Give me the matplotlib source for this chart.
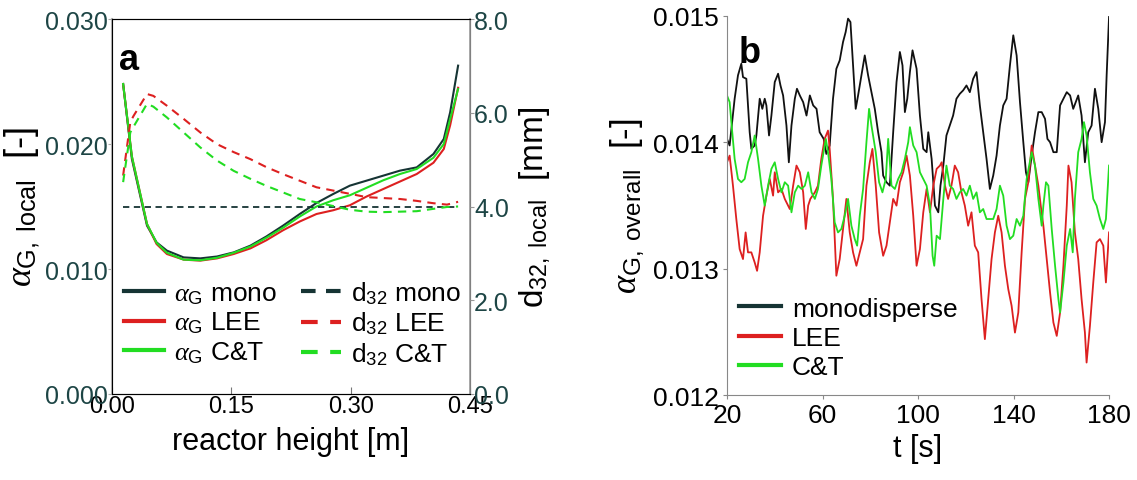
import numpy as np
import matplotlib
matplotlib.use("Agg")
from matplotlib import pyplot as plt

plt.rcParams['font.family'] = ['Liberation Sans', 'DejaVu Sans']
plt.rcParams['mathtext.fontset'] = 'custom'
plt.rcParams['mathtext.rm'] = 'Liberation Sans'
plt.rcParams['mathtext.sf'] = 'Liberation Sans'
plt.rcParams['mathtext.it'] = 'Liberation Serif:italic'

# ---- panel a: local gas holdup and bubble size along reactor height ----
height = [0.014, 0.025, 0.044, 0.056, 0.069, 0.090, 0.111, 0.132, 0.153, 0.174, 0.194, 0.215,
          0.236, 0.257, 0.278, 0.299, 0.320, 0.341, 0.362, 0.383, 0.404, 0.417, 0.425, 0.435]
alpha_mono = [0.0248, 0.0188, 0.01347, 0.01213, 0.01147, 0.01093, 0.01085, 0.0110, 0.01133, 0.01187,
              0.0126, 0.01347, 0.0144, 0.01528, 0.0160, 0.01667, 0.01707, 0.01747, 0.01787, 0.01813,
              0.0192, 0.0204, 0.02253, 0.02627]
alpha_lee = [0.0248, 0.0190, 0.0136, 0.0120, 0.0112, 0.01075, 0.01067, 0.01085, 0.0112, 0.01165,
             0.0123, 0.0131, 0.0138, 0.0144, 0.0147, 0.0151, 0.0158, 0.0164, 0.0170, 0.0176,
             0.0185, 0.0196, 0.0215, 0.0245]
alpha_ct = [0.0248, 0.0190, 0.0136, 0.0121, 0.0113, 0.01075, 0.0107, 0.0109, 0.0113, 0.0118,
            0.0125, 0.0133, 0.0142, 0.0150, 0.0155, 0.0159, 0.0165, 0.0171, 0.0176, 0.0180,
            0.0189, 0.0200, 0.0220, 0.0244]

height_d = [0.014, 0.023, 0.027, 0.044, 0.052, 0.069, 0.090, 0.111, 0.132, 0.153, 0.174, 0.194,
            0.215, 0.236, 0.257, 0.278, 0.299, 0.320, 0.341, 0.362, 0.383, 0.404, 0.421, 0.435]
d32_lee = [4.66, 5.80, 5.93, 6.40, 6.36, 6.15, 5.87, 5.58, 5.33, 5.16, 5.01, 4.84,
           4.69, 4.55, 4.41, 4.34, 4.27, 4.20, 4.18, 4.16, 4.12, 4.07, 4.04, 4.10]
d32_ct = [4.52, 5.58, 5.70, 6.19, 6.13, 5.90, 5.58, 5.26, 4.98, 4.76, 4.59, 4.44,
          4.30, 4.16, 4.09, 4.01, 3.93, 3.89, 3.88, 3.89, 3.90, 3.95, 3.99, 4.00]
height_mono = [0.014, 0.435]
d32_mono = [4.0, 4.0]

# ---- panel b: overall gas holdup over time ----
t_mono = [20.0, 21.1, 23.2, 24.6, 26.0, 26.7, 28.1, 29.5, 30.2, 31.6, 32.3, 33.7, 34.8, 35.8, 36.5,
          37.6, 38.6, 40.0, 41.4, 42.4, 43.5, 44.9, 45.9, 47.0, 48.4, 49.3, 50.5, 51.9, 53.3, 54.7,
          56.1, 57.5, 58.8, 60.5, 61.6, 63.0, 64.4, 65.8, 67.2, 68.6, 69.7, 70.7, 71.7, 72.8, 73.9,
          74.9, 76.3, 77.7, 79.1, 80.5, 81.9, 83.3, 84.7, 85.4, 86.8, 88.2, 89.6, 91.0, 92.4, 93.5,
          94.5, 95.5, 96.6, 97.7, 99.4, 100.8, 102.2, 103.6, 104.3, 105.7, 107.1, 108.5, 109.4,
          110.6, 111.9, 113.3, 114.7, 116.1, 117.5, 118.9, 120.3, 121.7, 123.1, 124.5, 125.9,
          127.3, 128.7, 130.1, 131.5, 132.9, 134.3, 135.7, 137.1, 138.5, 139.9, 141.3, 142.7,
          144.1, 145.2, 146.2, 147.6, 149.0, 150.4, 151.8, 153.2, 154.2, 155.3, 156.7, 158.1,
          159.5, 160.9, 162.3, 163.7, 165.0, 167.1, 168.5, 169.9, 171.3, 172.7, 174.1, 175.5,
          176.9, 178.3, 179.0, 180.0]
hold_mono = [14.027, 13.975, 14.345, 14.530, 14.622, 14.516, 14.503, 14.080, 13.948, 13.975, 14.054,
             14.345, 14.265, 14.345, 14.292, 14.054, 14.212, 14.477, 14.543, 14.450, 14.371, 14.133,
             13.842, 14.133, 14.345, 14.424, 14.371, 14.318, 14.212, 14.371, 14.292, 14.265, 14.080,
             14.027, 13.908, 13.975, 14.345, 14.582, 14.648, 14.794, 14.873, 14.979, 14.952, 14.609,
             14.265, 14.371, 14.530, 14.688, 14.530, 14.397, 14.265, 14.080, 13.922, 13.737, 13.684,
             13.657, 14.080, 14.477, 14.715, 14.609, 14.239, 14.345, 14.556, 14.728, 14.582, 14.212,
             13.948, 13.922, 14.080, 13.869, 13.499, 13.446, 13.657, 13.816, 14.054, 14.133, 14.212,
             14.345, 14.384, 14.411, 14.450, 14.397, 14.503, 14.556, 14.292, 14.080, 13.869, 13.631,
             13.737, 13.895, 14.133, 14.292, 14.345, 14.609, 14.847, 14.688, 14.318, 14.001, 13.763,
             13.684, 13.895, 14.080, 14.239, 14.239, 14.186, 14.027, 14.001, 13.922, 13.922, 14.292,
             14.345, 14.397, 14.371, 14.265, 14.371, 14.212, 13.842, 14.080, 14.133, 14.424, 14.265,
             14.001, 14.160, 14.530, 14.992]

t_lee = [20.0, 21.1, 22.5, 23.9, 25.3, 26.7, 27.8, 28.8, 30.2, 31.6, 32.6, 33.7, 35.1, 36.5, 37.9,
         39.3, 40.0, 41.4, 42.8, 44.2, 46.3, 47.7, 49.1, 50.5, 51.9, 53.0, 54.0, 54.9, 56.8, 58.1,
         59.5, 60.9, 62.3, 63.0, 64.4, 65.8, 67.2, 68.6, 70.0, 71.4, 72.8, 74.2, 75.6, 77.0, 78.4,
         79.8, 80.9, 82.3, 83.7, 85.4, 86.8, 88.2, 89.6, 91.0, 92.4, 93.8, 95.2, 96.6, 98.0, 99.4,
         100.8, 102.2, 103.6, 105.0, 106.4, 107.8, 109.2, 109.9, 111.3, 112.6, 114.0, 115.4, 116.8,
         118.2, 119.6, 121.0, 122.4, 123.8, 125.2, 126.6, 128.0, 129.4, 130.8, 132.2, 133.6, 135.0,
         136.4, 137.8, 139.2, 140.6, 142.0, 143.4, 144.8, 146.2, 147.6, 149.0, 150.4, 151.4, 152.5,
         153.9, 155.3, 156.7, 158.1, 159.5, 160.9, 162.3, 163.0, 164.3, 165.7, 167.1, 168.5, 169.9,
         170.6, 172.0, 173.4, 174.8, 176.2, 177.6, 178.7, 180.0]
hold_lee = [13.842, 13.895, 13.657, 13.393, 13.155, 13.076, 13.287, 13.129, 13.129, 13.049, 12.983,
            13.129, 13.419, 13.578, 13.710, 13.578, 13.763, 13.604, 13.631, 13.552, 13.472, 13.657,
            13.816, 13.763, 13.604, 13.314, 13.499, 13.552, 13.604, 13.657, 13.869, 14.027, 14.093,
            13.948, 13.552, 12.944, 13.076, 13.314, 13.552, 13.287, 13.129, 13.023, 13.129, 13.234,
            13.657, 13.842, 13.948, 13.657, 13.287, 13.102, 13.182, 13.367, 13.552, 13.499, 13.684,
            13.763, 13.895, 13.737, 13.419, 13.023, 13.155, 13.446, 13.631, 13.446, 13.657, 13.790,
            13.816, 13.842, 13.657, 13.552, 13.657, 13.816, 13.763, 13.604, 13.499, 13.340, 13.446,
            13.182, 13.129, 12.759, 12.442, 12.759, 13.076, 13.287, 13.419, 13.287, 13.023, 12.838,
            12.706, 12.494, 12.653, 13.129, 13.552, 13.684, 13.975, 13.816, 13.657, 13.499, 13.340,
            13.076, 12.812, 12.574, 12.468, 12.653, 13.023, 13.499, 13.816, 13.684, 13.287, 13.076,
            12.759, 12.494, 12.257, 12.547, 12.891, 13.208, 13.234, 13.182, 12.891, 13.287]

t_ct = [20.0, 21.1, 22.2, 23.2, 24.6, 26.0, 27.4, 28.8, 30.2, 31.6, 33.0, 34.4, 35.8, 37.2, 38.6,
        40.0, 41.4, 42.8, 44.2, 45.6, 47.0, 48.4, 49.8, 51.2, 52.6, 54.0, 55.4, 56.8, 58.1, 59.5,
        61.4, 62.3, 63.7, 65.1, 66.5, 67.9, 69.3, 70.7, 72.1, 73.5, 74.5, 75.6, 77.0, 78.4, 79.5,
        80.5, 82.3, 83.7, 85.1, 86.5, 87.5, 88.9, 90.3, 91.7, 93.1, 94.5, 95.9, 96.6, 98.0, 99.4,
        100.8, 102.2, 103.6, 105.0, 106.1, 106.8, 107.8, 109.2, 110.6, 111.9, 113.3, 114.7, 116.1,
        117.5, 118.9, 120.3, 121.7, 123.1, 124.5, 125.9, 127.3, 128.7, 130.1, 131.5, 132.9, 134.3,
        135.7, 137.1, 138.5, 139.9, 141.3, 142.7, 144.1, 145.5, 147.6, 149.0, 150.4, 151.8, 152.5,
        153.6, 154.6, 156.0, 157.4, 158.8, 159.5, 160.9, 162.3, 163.7, 164.8, 165.7, 167.1, 168.5,
        169.5, 170.6, 172.0, 173.4, 174.8, 176.2, 177.6, 178.7, 180.0]
hold_ct = [14.371, 14.318, 14.080, 13.869, 13.710, 13.684, 13.710, 13.842, 13.922, 14.054, 13.869,
           13.657, 13.499, 13.657, 13.790, 13.842, 13.710, 13.604, 13.684, 13.657, 13.446, 13.604,
           13.657, 13.631, 13.657, 13.763, 13.604, 13.552, 13.631, 13.816, 14.027, 13.922, 13.710,
           13.367, 13.287, 13.314, 13.419, 13.552, 13.340, 13.234, 13.182, 13.419, 13.631, 14.001,
           14.265, 14.133, 13.922, 13.684, 13.604, 13.710, 14.027, 13.657, 13.631, 13.710, 13.763,
           13.869, 14.001, 14.120, 13.975, 13.922, 13.763, 13.710, 13.657, 13.499, 13.102, 13.023,
           13.261, 13.234, 13.552, 13.816, 13.657, 13.631, 13.552, 13.604, 13.631, 13.578, 13.657,
           13.552, 13.604, 13.446, 13.472, 13.393, 13.393, 13.393, 13.472, 13.657, 13.578, 13.340,
           13.234, 13.261, 13.393, 13.340, 13.419, 13.710, 13.922, 13.816, 13.552, 13.340, 13.499,
           13.684, 13.657, 13.314, 13.023, 12.759, 12.653, 12.891, 13.182, 13.314, 13.129, 13.552,
           13.922, 14.027, 14.160, 14.054, 13.763, 13.552, 13.499, 13.393, 13.314, 13.393, 13.816]

C_DARK = '#163434'
C_RED = '#dd2020'
C_GREEN = '#22dd22'
C_TICK = '#1d4545'

fig = plt.figure(figsize=(11.37, 4.81), dpi=100)
ax1 = fig.add_axes([0.0985, 0.1788, 0.3149, 0.7796])
ax1b = ax1.twinx()

l1, = ax1.plot(height, alpha_mono, color=C_DARK, lw=1.5)
l2, = ax1.plot(height, alpha_lee, color=C_RED, lw=1.5)
l3, = ax1.plot(height, alpha_ct, color=C_GREEN, lw=1.5)
l4, = ax1b.plot(height_mono, d32_mono, color=C_DARK, lw=1.3, ls=(0, (3.5, 2.5)))
l5, = ax1b.plot(height_d, d32_lee, color=C_RED, lw=1.5, ls=(0, (4, 3)))
l6, = ax1b.plot(height_d, d32_ct, color=C_GREEN, lw=1.5, ls=(0, (4, 3)))

ax1.set_xlim(0, 0.45)
ax1.set_ylim(0, 0.030)
ax1b.set_ylim(0, 8.0)
ax1.set_xticks([0, 0.15, 0.30, 0.45])
ax1.set_xticklabels(['0.00', '0.15', '0.30', '0.45'], fontsize=17)
ax1.set_yticks([0, 0.01, 0.02, 0.03])
ax1.set_yticklabels(['0.000', '0.010', '0.020', '0.030'], fontsize=18, color=C_TICK)
ax1b.set_yticks([0, 2, 4, 6, 8])
ax1b.set_yticklabels(['0.0', '2.0', '4.0', '6.0', '8.0'], fontsize=18, color=C_TICK)
ax1.tick_params(axis='x', direction='in', length=5, color='#777777', pad=1)
ax1.tick_params(axis='y', direction='out', length=3, color='#aaaaaa', pad=0)
ax1b.tick_params(axis='y', direction='out', length=3, color='#999999', pad=0)

ax1.spines['left'].set_color('#b8b8b8')
ax1.spines['left'].set_linewidth(1.5)
ax1.spines['bottom'].set_color('#444444')
ax1.spines['top'].set_color('#555555')
ax1b.spines['right'].set_color('#9a9a9a')
ax1b.spines['right'].set_linewidth(1.2)

ax1.set_xlabel('reactor height [m]', fontsize=22, labelpad=6)
ax1.set_ylabel(r'$\alpha_{\mathrm{G,\ local}}$  [-]', fontsize=26, labelpad=2)
ax1b.set_ylabel(r'd$_{\mathrm{32,\ local}}$  [mm]', fontsize=24, labelpad=6)
ax1.text(0.02, 0.94, 'a', transform=ax1.transAxes, fontsize=26, fontweight='bold', va='top')

leg1 = ax1b.legend([l1, l2, l3, l4, l5, l6],
                   [r'$\alpha_{\mathrm{G}}$ mono', r'$\alpha_{\mathrm{G}}$ LEE', r'$\alpha_{\mathrm{G}}$ C&T',
                    r'd$_{\mathrm{32}}$ mono', r'd$_{\mathrm{32}}$ LEE', r'd$_{\mathrm{32}}$ C&T'],
                   ncol=2, loc='lower left', bbox_to_anchor=(-0.01, 0.03), frameon=False,
                   fontsize=19, handlelength=1.5, handletextpad=0.4, labelspacing=0.15,
                   columnspacing=0.9, borderaxespad=0.2)
for ln in leg1.get_lines():
    ln.set_linewidth(3)

# ---- panel b ----
ax2 = fig.add_axes([0.6394, 0.1767, 0.336, 0.788])
ax2.plot(t_mono, np.array(hold_mono) * 1e-3, color='#111111', lw=1.3, label='monodisperse')
ax2.plot(t_lee, np.array(hold_lee) * 1e-3, color=C_RED, lw=1.3, label='LEE')
ax2.plot(t_ct, np.array(hold_ct) * 1e-3, color=C_GREEN, lw=1.3, label='C&T')
ax2.set_xlim(20, 180)
ax2.set_ylim(0.012, 0.015)
ax2.set_xticks([20, 60, 100, 140, 180])
ax2.set_xticklabels(['20', '60', '100', '140', '180'], fontsize=19)
ax2.set_yticks([0.012, 0.013, 0.014, 0.015])
ax2.set_yticklabels(['0.012', '0.013', '0.014', '0.015'], fontsize=19)
ax2.tick_params(direction='out', length=3, color='#888888', pad=3)
for s in ['top', 'right']:
    ax2.spines[s].set_visible(False)
ax2.spines['left'].set_color('#888888')
ax2.spines['bottom'].set_color('#888888')
ax2.set_xlabel('t [s]', fontsize=22, labelpad=4)
ax2.set_ylabel(r'$\alpha_{\mathrm{G,\ overall}}$  [-]', fontsize=25, labelpad=5)
ax2.text(0.03, 0.95, 'b', transform=ax2.transAxes, fontsize=26, fontweight='bold', va='top')
leg2 = ax2.legend(loc='lower left', bbox_to_anchor=(-0.01, 0.0), frameon=False, fontsize=19,
                  handlelength=1.6, handletextpad=0.4, labelspacing=0.2, borderaxespad=0.2)
leg2.get_lines()[0].set_color(C_DARK)
for ln in leg2.get_lines():
    ln.set_linewidth(3)

fig.savefig('out.png', dpi=100)
